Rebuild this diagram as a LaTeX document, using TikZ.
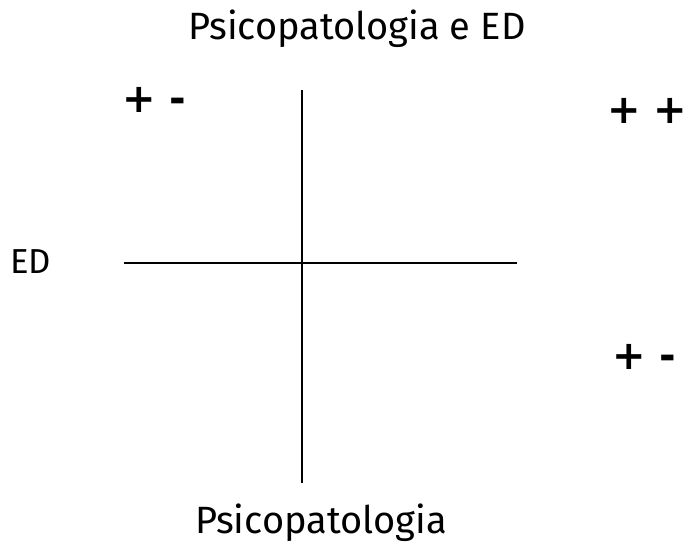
\documentclass[tikz,border=0pt]{standalone}
\usepackage{fontspec}
\setmainfont{Fira Sans}
\newfontfamily\signfont{DejaVu Sans}
\usetikzlibrary{positioning}

\begin{document}
\begin{tikzpicture}[x=0.75pt,y=-0.75pt,
  every node/.style={font=\fontsize{28.5}{32}\selectfont,inner sep=0pt},
  sgn/.style={font=\signfont\fontsize{30}{34}\selectfont\bfseries,anchor=west},
  axis/.style={line width=1pt}]
\useasboundingbox (0,0) rectangle (691,549);
\node[anchor=base] (title) at (357,40) {Psicopatologia e ED};
\node[anchor=base] (yname) at (321,533) {Psicopatologia};
\node[anchor=base west,font=\fontsize{26}{30}\selectfont] (xname) at (10,273) {ED};
\node[sgn] (tl) at (122,100) {+ -};
\node[sgn] (tr) at (607,111) {+\kern-1pt{} +\kern-3pt};
\node[sgn] (br) at (612,357) {+ -};
\coordinate (top) at (302,90);
\coordinate (bot) at (302,483);
\coordinate (lft) at (124,263);
\coordinate (rgt) at (517,263);
\draw[axis] (top) -- (bot);
\draw[axis] (lft) -- (rgt);
\end{tikzpicture}
\end{document}
